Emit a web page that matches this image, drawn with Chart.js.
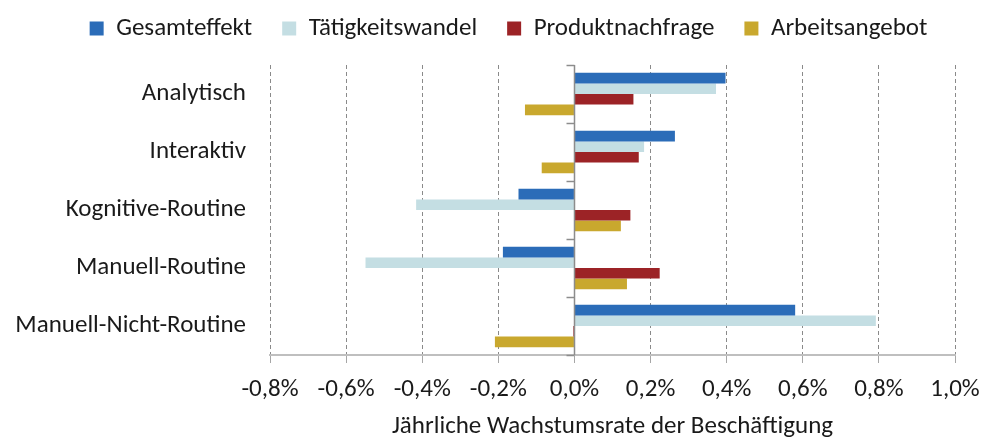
<!DOCTYPE html>
<html>
<head>
<meta charset="utf-8">
<script src="https://cdn.jsdelivr.net/npm/chart.js@4"></script>
<style>
html,body{margin:0;padding:0;background:#fff;}
#wrap{width:987px;height:439px;}
</style>
</head>
<body>
<div id="wrap"><canvas id="c" width="987" height="439"></canvas></div>
<script>
const categories = ["Analytisch", "Interaktiv", "Kognitive-Routine", "Manuell-Routine", "Manuell-Nicht-Routine"];
const seriesNames = ["Gesamteffekt", "Tätigkeitswandel", "Produktnachfrage", "Arbeitsangebot"];
const gesamteffekt     = [0.397, 0.264, -0.147, -0.188, 0.580];
const taetigkeitswandel = [0.372, 0.183, -0.416, -0.549, 0.792];
const produktnachfrage = [0.155, 0.169, 0.147, 0.224, -0.003];
const arbeitsangebot   = [-0.130, -0.086, 0.122, 0.138, -0.209];
const xTicks = [-0.8, -0.6, -0.4, -0.2, 0.0, 0.2, 0.4, 0.6, 0.8, 1.0];
const colors = ["#2B6CB8", "#C4DEE3", "#9C2326", "#C9A82E"];
const axisTitle = "Jährliche Wachstumsrate der Beschäftigung";

const FONT = "Calibri, Carlito, Lato, sans-serif";
const FS = 25;
const fmt = v => v.toFixed(1).replace('.', ',') + '%';

const zeroTicks = {
  id: 'zeroTicks',
  beforeLayout(chart) {
    const lg = chart.legend;
    if (lg && !lg._patched) {
      const orig = lg.fit;
      lg.fit = function () { orig.call(this); this.height = 79; };
      lg._patched = true;
    }
  },
  afterDatasetsDraw(chart) {
    const x = chart.scales.x, y = chart.scales.y, ctx = chart.ctx;
    const x0 = Math.round(x.getPixelForValue(0)) + 0.5;
    const n = categories.length;
    const step = (y.getPixelForValue(n - 1) - y.getPixelForValue(0)) / (n - 1);
    ctx.save();
    ctx.strokeStyle = '#8c8c8c';
    ctx.lineWidth = 1.5;
    for (let i = 0; i <= n; i++) {
      const py = Math.round(y.getPixelForValue(0) - step / 2 + i * step) + 0.5;
      ctx.beginPath();
      ctx.moveTo(x0 - 8, py);
      ctx.lineTo(x0, py);
      ctx.stroke();
    }
    ctx.beginPath();
    ctx.moveTo(x0, y.top);
    ctx.lineTo(x0, y.bottom);
    ctx.stroke();
    ctx.restore();
  }
};

new Chart(document.getElementById('c'), {
  type: 'bar',
  data: {
    labels: categories,
    datasets: [gesamteffekt, taetigkeitswandel, produktnachfrage, arbeitsangebot].map((d, i) => ({
      label: seriesNames[i],
      data: d,
      backgroundColor: colors[i],
      borderWidth: 0,
      categoryPercentage: 0.73,
      barPercentage: 1.0
    }))
  },
  options: {
    indexAxis: 'y',
    responsive: false,
    animation: false,
    devicePixelRatio: 1,
    layout: { padding: { left: 10, right: -20, top: -14, bottom: 0 } },
    plugins: {
      legend: {
        position: 'top',
        labels: {
          boxWidth: 14, boxHeight: 14, padding: 30,
          color: '#1a1a1a',
          font: { family: FONT, size: FS }
        }
      },
      tooltip: { enabled: false }
    },
    scales: {
      x: {
        min: -0.8, max: 1.0,
        afterBuildTicks: s => { s.ticks = xTicks.map(v => ({ value: v })); },
        ticks: {
          callback: v => fmt(v),
          color: '#1a1a1a',
          font: { family: FONT, size: FS },
          padding: 12,
          maxRotation: 0
        },
        grid: {
          color: c => (c.tick && Math.abs(c.tick.value) < 1e-9) ? 'rgba(0,0,0,0)' : '#8a8a8a',
          lineWidth: 1,
          tickLength: 8,
          tickColor: '#a6a6a6',
          drawTicks: true
        },
        border: {
          display: true,
          color: '#bfbfbf',
          width: 2,
          dash: c => (c.tick ? [4, 3] : [])
        },
        title: {
          display: true,
          text: axisTitle,
          color: '#1a1a1a',
          font: { family: FONT, size: FS, lineHeight: 1 },
          padding: { top: 8, bottom: 0 }
        },
        afterFit: s => { s.height = 84; s.paddingRight = 32; s.paddingLeft = 0; }
      },
      y: {
        grid: { display: false, drawTicks: false },
        border: { display: false },
        ticks: {
          color: '#1a1a1a',
          font: { family: FONT, size: FS },
          padding: 24
        },
        afterFit: s => { s.width = 260; }
      }
    }
  },
  plugins: [zeroTicks]
});
</script>
</body>
</html>
